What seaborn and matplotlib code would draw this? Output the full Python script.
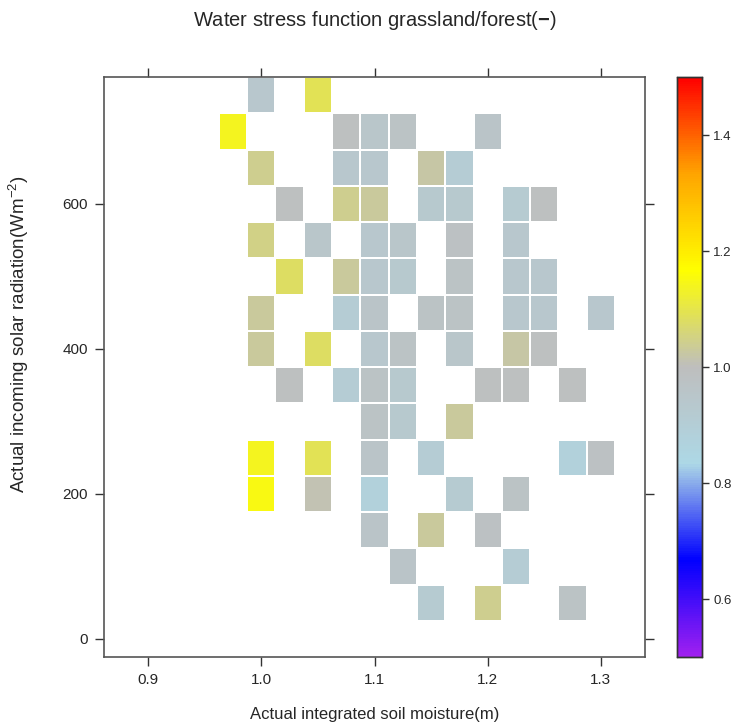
import numpy as np
import pandas as pd
import matplotlib
matplotlib.use("Agg")
import matplotlib.pyplot as plt
import seaborn as sns
from matplotlib.colors import LinearSegmentedColormap

# ---- data (cell centres and values) ----
soil_grid = [0.975, 1.0, 1.025, 1.05, 1.075, 1.1, 1.125, 1.15, 1.175, 1.2,
             1.225, 1.25, 1.275, 1.3]
rad_grid = [750, 700, 650, 600, 550, 500, 450, 400, 350, 300, 250, 200, 150, 100, 50]

soil = [1.0, 1.05,
        0.975, 1.075, 1.1, 1.125, 1.2,
        1.0, 1.075, 1.1, 1.15, 1.175,
        1.025, 1.075, 1.1, 1.15, 1.175, 1.225, 1.25,
        1.0, 1.05, 1.1, 1.125, 1.175, 1.225,
        1.025, 1.075, 1.1, 1.125, 1.175, 1.225, 1.25,
        1.0, 1.075, 1.1, 1.15, 1.175, 1.225, 1.25, 1.3,
        1.0, 1.05, 1.1, 1.125, 1.175, 1.225, 1.25,
        1.025, 1.075, 1.1, 1.125, 1.2, 1.225, 1.275,
        1.1, 1.125, 1.175,
        1.0, 1.05, 1.1, 1.15, 1.275, 1.3,
        1.0, 1.05, 1.1, 1.175, 1.225,
        1.1, 1.15, 1.2,
        1.125, 1.225,
        1.15, 1.2, 1.275]
radiation = [750, 750,
             700, 700, 700, 700, 700,
             650, 650, 650, 650, 650,
             600, 600, 600, 600, 600, 600, 600,
             550, 550, 550, 550, 550, 550,
             500, 500, 500, 500, 500, 500, 500,
             450, 450, 450, 450, 450, 450, 450, 450,
             400, 400, 400, 400, 400, 400, 400,
             350, 350, 350, 350, 350, 350, 350,
             300, 300, 300,
             250, 250, 250, 250, 250, 250,
             200, 200, 200, 200, 200,
             150, 150, 150,
             100, 100,
             50, 50, 50]
stress = [0.94, 1.09,
          1.14, 0.99, 0.95, 0.97, 0.96,
          1.04, 0.94, 0.94, 1.02, 0.91,
          0.99, 1.04, 1.03, 0.93, 0.93, 0.92, 0.99,
          1.05, 0.95, 0.94, 0.95, 0.98, 0.94,
          1.08, 1.03, 0.94, 0.93, 0.97, 0.94, 0.94,
          1.03, 0.91, 0.96, 0.97, 0.97, 0.94, 0.94, 0.94,
          1.03, 1.08, 0.94, 0.97, 0.95, 1.02, 0.99,
          0.99, 0.91, 0.97, 0.93, 0.99, 0.99, 0.99,
          0.97, 0.93, 1.03,
          1.14, 1.09, 0.96, 0.91, 0.88, 0.98,
          1.15, 1.01, 0.88, 0.92, 0.97,
          0.96, 1.03, 0.98,
          0.96, 0.91,
          0.92, 1.04, 0.97]

xtick_vals = [0.9, 1.0, 1.1, 1.2, 1.3]
xtick_labels = ["0.9", "1.0", "1.1", "1.2", "1.3"]
ytick_vals = [0, 200, 400, 600]
cbar_ticks = [0.6, 0.8, 1.0, 1.2, 1.4]
palette = ["#A020F0", "#0000FF", "#ADD8E6", "#BEBEBE", "#FFFF00", "#FFA500", "#FF0000"]

# ---- build table ----
df = pd.DataFrame({"soil": soil, "rad": radiation, "stress": stress})
table = df.pivot_table(index="rad", columns="soil", values="stress")
table = table.reindex(index=rad_grid, columns=soil_grid)

cmap = LinearSegmentedColormap.from_list("ws", palette, N=256)

sns.set_style("white")
plt.rcParams["font.family"] = ["Liberation Sans", "DejaVu Sans"]
plt.rcParams["mathtext.fontset"] = "custom"
plt.rcParams["mathtext.rm"] = "Liberation Sans"
plt.rcParams["mathtext.bf"] = "Liberation Sans:bold"

fig = plt.figure(figsize=(7.35, 7.26), dpi=100)
ax = fig.add_axes([104/735, 1-657/726, (645-104)/735, (657-77)/726])
cax = fig.add_axes([677/735, 1-657/726, 25/735, (657-77)/726])

sns.heatmap(table, ax=ax, cmap=cmap, vmin=0.5, vmax=1.5, cbar_ax=cax,
            linewidths=0.15, linecolor="white", xticklabels=False, yticklabels=False)

x0, dx = soil_grid[0], soil_grid[1] - soil_grid[0]
y0, dy = rad_grid[0], rad_grid[0] - rad_grid[1]
def xc(v):
    return (v - x0) / dx + 0.5
def yc(v):
    return (y0 - v) / dy + 0.5

ax.set_xlim(xc(0.861), xc(1.339))
ax.set_ylim(yc(-25), yc(775))
ax.set_xticks([xc(v) for v in xtick_vals])
ax.set_xticklabels(xtick_labels)
ax.set_yticks([yc(v) for v in ytick_vals])
ax.set_yticklabels([str(v) for v in ytick_vals], rotation=0)
ax.set_xlabel("Actual integrated soil moisture(m)", fontsize=12)
ax.set_ylabel("Actual incoming solar radiation(Wm$^{-2}$)", fontsize=13.5)
ax.xaxis.set_label_coords((375-104)/541, (657-707)/580)
ax.yaxis.set_label_coords((31-104)/541, (657-334)/580)
ax.tick_params(axis="both", which="both", direction="out", length=6.5, width=1,
               color="#333333", labelsize=11, pad=5,
               top=True, right=True, bottom=True, left=True,
               labeltop=False, labelright=False)
for s in ax.spines.values():
    s.set_visible(True)
    s.set_color("#555555")
    s.set_linewidth(1.2)

fig.text(375/735, 1-20/726, r"Water stress function grassland/forest$(\mathbf{-})$",
         ha="center", va="center", fontsize=14.5)

cax.set_yticks(cbar_ticks)
cax.set_yticklabels(["0.6", "0.8", "1.0", "1.2", "1.4"])
cax.tick_params(axis="y", direction="out", length=5, width=1, color="#333333",
                labelsize=9.5, pad=3, right=True, left=False)
for s in cax.spines.values():
    s.set_visible(True)
    s.set_color("#333333")
    s.set_linewidth(1.0)

fig.savefig("out.png", dpi=100, facecolor="white")
